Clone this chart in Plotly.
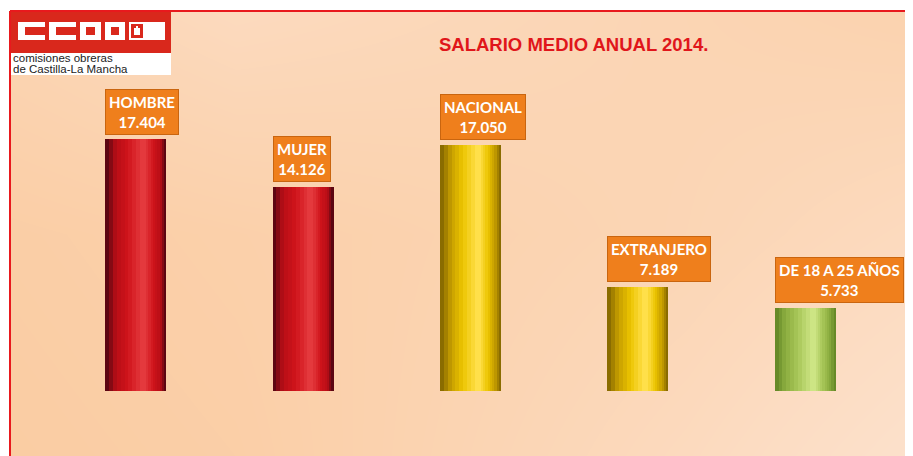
import plotly.graph_objects as go

# ---------------- data ----------------
categories = ["HOMBRE", "MUJER", "NACIONAL", "EXTRANJERO", "DE 18 A 25 AÑOS"]
salaries = [17404, 14126, 17050, 7189, 5733]
color_groups = ["red", "red", "gold", "gold", "green"]
title_text = "SALARIO MEDIO ANUAL 2014."
logo_line1 = "comisiones obreras"
logo_line2 = "de Castilla-La Mancha"

# ---------------- style ----------------
OFF = 8                      # browser body margin
W, H = 913 - OFF, 456 - OFF
edge_center = {
    "red":   [("#5c0612", 0.0), ("#b80e16", 0.25), ("#d0141b", 0.6), ("#e4393d", 1.0)],
    "gold":  [("#8a6c00", 0.0), ("#c49c00", 0.25), ("#ecc400", 0.6), ("#ffe04a", 1.0)],
    "green": [("#668a28", 0.0), ("#8aac3e", 0.25), ("#a8c658", 0.6), ("#cde584", 1.0)],
}
N_LAYERS = 10
BAR_W = 0.365

def hex2rgb(h):
    h = h.lstrip("#")
    return [int(h[i:i + 2], 16) for i in (0, 2, 4)]

def shade(group, t):
    stops = edge_center[group]
    for (c0, t0), (c1, t1) in zip(stops[:-1], stops[1:]):
        if t <= t1:
            f = (t - t0) / (t1 - t0) if t1 > t0 else 0
            a, b = hex2rgb(c0), hex2rgb(c1)
            return "rgb(%d,%d,%d)" % tuple(round(a[k] + (b[k] - a[k]) * f) for k in range(3))
    return stops[-1][0]

def px(x):
    return (x - OFF) / W

def py(y):
    return 1 - (y - OFF) / H

fig = go.Figure()

# background gradient (decorative) on x/y
bg_z = [
    [0.85, 0.78, 0.45, 0.05],   # bottom
    [0.80, 0.72, 0.62, 0.45],
    [0.65, 0.35, 0.65, 1.00],   # top
]
fig.add_trace(go.Heatmap(
    z=bg_z, x=[0, 1, 2, 3], y=[0, 1, 2], zsmooth="best",
    colorscale=[[0, "#fdf3ee"], [0.5, "#fcdcc2"], [1, "#f9c18c"]],
    zmin=0, zmax=1, showscale=False, hoverinfo="skip",
    xaxis="x", yaxis="y",
))

# cylinder-like bars: overlaid layers, narrowing towards an off-centre highlight
for li in range(N_LAYERS):
    t = li / (N_LAYERS - 1)
    left = -BAR_W / 2 + BAR_W * 0.57 * t
    right = BAR_W / 2 - BAR_W * 0.33 * t
    fig.add_trace(go.Bar(
        x=list(range(len(categories))), y=salaries,
        width=[right - left] * len(categories),
        offset=[left] * len(categories),
        marker=dict(color=[shade(g, t) for g in color_groups], line=dict(width=0)),
        xaxis="x2", yaxis="y2", hoverinfo="skip", showlegend=False,
    ))

annotations = []
for i, (cat, val) in enumerate(zip(categories, salaries)):
    txt = f"<b>{cat}</b><br><b>{val:,}</b>".replace(",", ".")
    annotations.append(dict(text=txt, x=i - BAR_W / 2, y=val, xref="x2", yref="y2",
                            xanchor="left", yanchor="bottom", showarrow=False,
                            borderpad=3, align="center",
                            font=dict(family="Lato", size=15, color="#ffffff"),
                            bgcolor="#ef7f1c", bordercolor="#c9650f", borderwidth=1,
                            yshift=5))

# title
annotations.append(dict(text=f"<b>{title_text}</b>", x=px(573), y=py(45), xref="paper", yref="paper",
                        xanchor="center", yanchor="middle",
                        showarrow=False, font=dict(family="Liberation Sans", size=18.5, color="#e0161b")))
# logo text
annotations.append(dict(text=logo_line1, x=px(11), y=py(58), xref="paper", yref="paper",
                        xanchor="left", yanchor="middle",
                        showarrow=False, font=dict(family="Liberation Sans", size=11.5, color="#222222")))
annotations.append(dict(text=logo_line2, x=px(11), y=py(69), xref="paper", yref="paper",
                        xanchor="left", yanchor="middle",
                        showarrow=False, font=dict(family="Liberation Sans", size=11.5, color="#222222")))

shapes = []
def rect(x0, y0, x1, y1, color):
    shapes.append(dict(type="rect", xref="paper", yref="paper", x0=px(x0), x1=px(x1),
                       y0=py(y1), y1=py(y0), fillcolor=color, line=dict(width=0)))

LOGO_RED = "#d9281c"
rect(10, 52, 171, 75, "#ffffff")
rect(10, 12, 171, 53, LOGO_RED)
# C letters
for x0, x1 in [(18, 45), (49, 76)]:
    rect(x0, 22, x1, 40, "#ffffff")
    rect(x0 + 7, 27, x1, 35, LOGO_RED)
# O letters
for x0, x1 in [(80, 101), (105, 125)]:
    rect(x0, 22, x1, 40, "#ffffff")
    rect(x0 + 6, 27, x1 - 6, 35, LOGO_RED)
# castle box
rect(129, 22, 165, 40, "#ffffff")
rect(131, 24, 143, 38, LOGO_RED)
rect(134, 28, 140, 35, "#ffffff")
rect(136, 26, 138, 28, "#ffffff")

# red frame lines
shapes.append(dict(type="line", xref="paper", yref="paper", x0=px(10), x1=1, y0=py(11), y1=py(11),
                   line=dict(color="#e8191d", width=2)))
shapes.append(dict(type="line", xref="paper", yref="paper", x0=px(10), x1=px(10), y0=0, y1=py(11),
                   line=dict(color="#e8191d", width=2)))

fig.update_layout(
    width=W, height=H,
    margin=dict(l=0, r=0, t=0, b=0),
    paper_bgcolor="#ffffff", plot_bgcolor="rgba(0,0,0,0)",
    barmode="overlay", bargap=0,
    showlegend=False,
    xaxis=dict(domain=[px(10), 1], range=[0.5, 2.5], visible=False, fixedrange=True),
    yaxis=dict(domain=[0, py(11)], range=[0.5, 1.5], visible=False, fixedrange=True),
    xaxis2=dict(domain=[px(52), px(889)], range=[-0.5, len(categories) - 0.5], visible=False,
                anchor="y2", fixedrange=True),
    yaxis2=dict(domain=[py(391), py(102.4)], range=[0, 20000], visible=False,
                anchor="x2", fixedrange=True),
    annotations=annotations,
    shapes=shapes,
)

fig.write_html("out.html", config={"displayModeBar": False})
